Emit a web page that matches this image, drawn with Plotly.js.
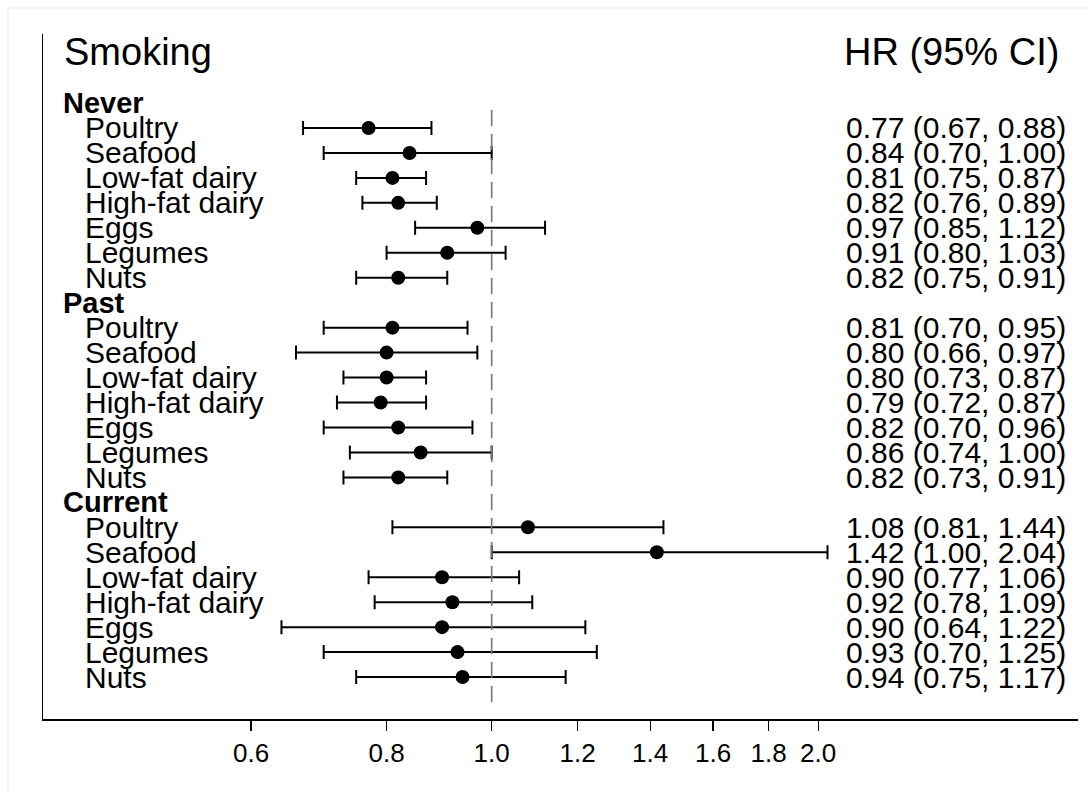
<!DOCTYPE html>
<html>
<head>
<meta charset="utf-8">
<script src="https://cdn.plot.ly/plotly-3.0.1.min.js"></script>
<style>
  html, body { margin: 0; padding: 0; background: #ffffff; }
  #chart { width: 1088px; height: 794px; }
</style>
</head>
<body>
<div id="chart"></div>
<script>
// ---------------- DATA ----------------
const headerLeft = 'Smoking';
const headerRight = 'HR (95% CI)';
const groups = ['Never', 'Past', 'Current'];
const foods = ['Poultry', 'Seafood', 'Low-fat dairy', 'High-fat dairy', 'Eggs', 'Legumes', 'Nuts'];

const hrNever = [0.77, 0.84, 0.81, 0.82, 0.97, 0.91, 0.82];
const loNever = [0.67, 0.70, 0.75, 0.76, 0.85, 0.80, 0.75];
const hiNever = [0.88, 1.00, 0.87, 0.89, 1.12, 1.03, 0.91];

const hrPast = [0.81, 0.80, 0.80, 0.79, 0.82, 0.86, 0.82];
const loPast = [0.70, 0.66, 0.73, 0.72, 0.70, 0.74, 0.73];
const hiPast = [0.95, 0.97, 0.87, 0.87, 0.96, 1.00, 0.91];

const hrCurrent = [1.08, 1.42, 0.90, 0.92, 0.90, 0.93, 0.94];
const loCurrent = [0.81, 1.00, 0.77, 0.78, 0.64, 0.70, 0.75];
const hiCurrent = [1.44, 2.04, 1.06, 1.09, 1.22, 1.25, 1.17];

const tickVals = [0.6, 0.8, 1.0, 1.2, 1.4, 1.6, 1.8, 2.0];
const tickText = ['0.6', '0.8', '1.0', '1.2', '1.4', '1.6', '1.8', '2.0'];
const refValue = 1.0;

// ---------------- BUILD ----------------
const FONT = 'Liberation Sans, Arial, Helvetica, sans-serif';
const groupData = [
  {hr: hrNever, lo: loNever, hi: hiNever},
  {hr: hrPast, lo: loPast, hi: hiPast},
  {hr: hrCurrent, lo: loCurrent, hi: hiCurrent}
];

const xs = [], ys = [], errPlus = [], errMinus = [];
const annotations = [];
const rowsPerGroup = foods.length + 1;
const firstRow = 2;

annotations.push({
  text: headerLeft, xref: 'paper', yref: 'y', x: 0, y: -0.05, xanchor: 'left', yanchor: 'middle',
  xshift: 19, showarrow: false, font: {family: FONT, size: 38, color: '#000'}
});
annotations.push({
  text: headerRight, xref: 'paper', yref: 'y', x: 0, y: -0.05, xanchor: 'left', yanchor: 'middle',
  xshift: 799, showarrow: false, font: {family: FONT, size: 38, color: '#000'}
});

groups.forEach((g, gi) => {
  const gRow = firstRow + gi * rowsPerGroup;
  annotations.push({
    text: '<b>' + g + '</b>', xref: 'paper', yref: 'y', x: 0, y: gRow, xanchor: 'left', yanchor: 'middle',
    xshift: 18, showarrow: false, font: {family: FONT, size: 29, color: '#000'}
  });
  const d = groupData[gi];
  foods.forEach((f, fi) => {
    const r = gRow + 1 + fi;
    xs.push(d.hr[fi]);
    ys.push(r);
    errPlus.push(d.hi[fi] - d.hr[fi]);
    errMinus.push(d.hr[fi] - d.lo[fi]);
    annotations.push({
      text: f, xref: 'paper', yref: 'y', x: 0, y: r, xanchor: 'left', yanchor: 'middle',
      xshift: 40, showarrow: false, font: {family: FONT, size: 30, color: '#000'}
    });
    annotations.push({
      text: d.hr[fi].toFixed(2) + ' (' + d.lo[fi].toFixed(2) + ', ' + d.hi[fi].toFixed(2) + ')',
      xref: 'paper', yref: 'y', x: 0, y: r, xanchor: 'left', yanchor: 'middle',
      xshift: 801, showarrow: false, font: {family: FONT, size: 30, color: '#000'}
    });
  });
});

const lastRow = firstRow + groups.length * rowsPerGroup - 1;

const trace = {
  type: 'scatter', mode: 'markers', x: xs, y: ys,
  marker: {color: '#000', size: 14, line: {width: 0}},
  error_x: {type: 'data', symmetric: false, array: errPlus, arrayminus: errMinus,
            color: '#000', thickness: 2, width: 7},
  hoverinfo: 'x+y', showlegend: false
};

const layout = {
  width: 1088, height: 794,
  margin: {l: 43, r: 10, t: 34, b: 75},
  paper_bgcolor: '#ffffff', plot_bgcolor: '#ffffff',
  showlegend: false,
  xaxis: {
    type: 'log', range: [-0.4137, 0.5406],
    showline: true, linecolor: '#000', linewidth: 1.5,
    showgrid: false, zeroline: false,
    ticks: 'outside', ticklen: 10, tickwidth: 1.3, tickcolor: '#000',
    tickvals: tickVals, ticktext: tickText,
    tickfont: {family: FONT, size: 26, color: '#000'}
  },
  yaxis: {
    range: [26.68, -0.765],
    showline: true, linecolor: '#000', linewidth: 1.5,
    showgrid: false, zeroline: false, showticklabels: false, ticks: ''
  },
  shapes: [
    {type: 'line', xref: 'x', yref: 'y', x0: refValue, x1: refValue, y0: lastRow + 1, y1: firstRow,
     line: {color: '#777777', width: 1.6, dash: '16px,8px'}},
    {type: 'rect', xref: 'paper', yref: 'paper', x0: -0.0338, x1: 1.1, y0: 1.038, y1: -0.2,
     line: {color: '#e4eaea', width: 1}, fillcolor: 'rgba(0,0,0,0)', layer: 'below'}
  ],
  annotations: annotations
};

Plotly.newPlot('chart', [trace], layout, {displayModeBar: false, staticPlot: true});
</script>
</body>
</html>
